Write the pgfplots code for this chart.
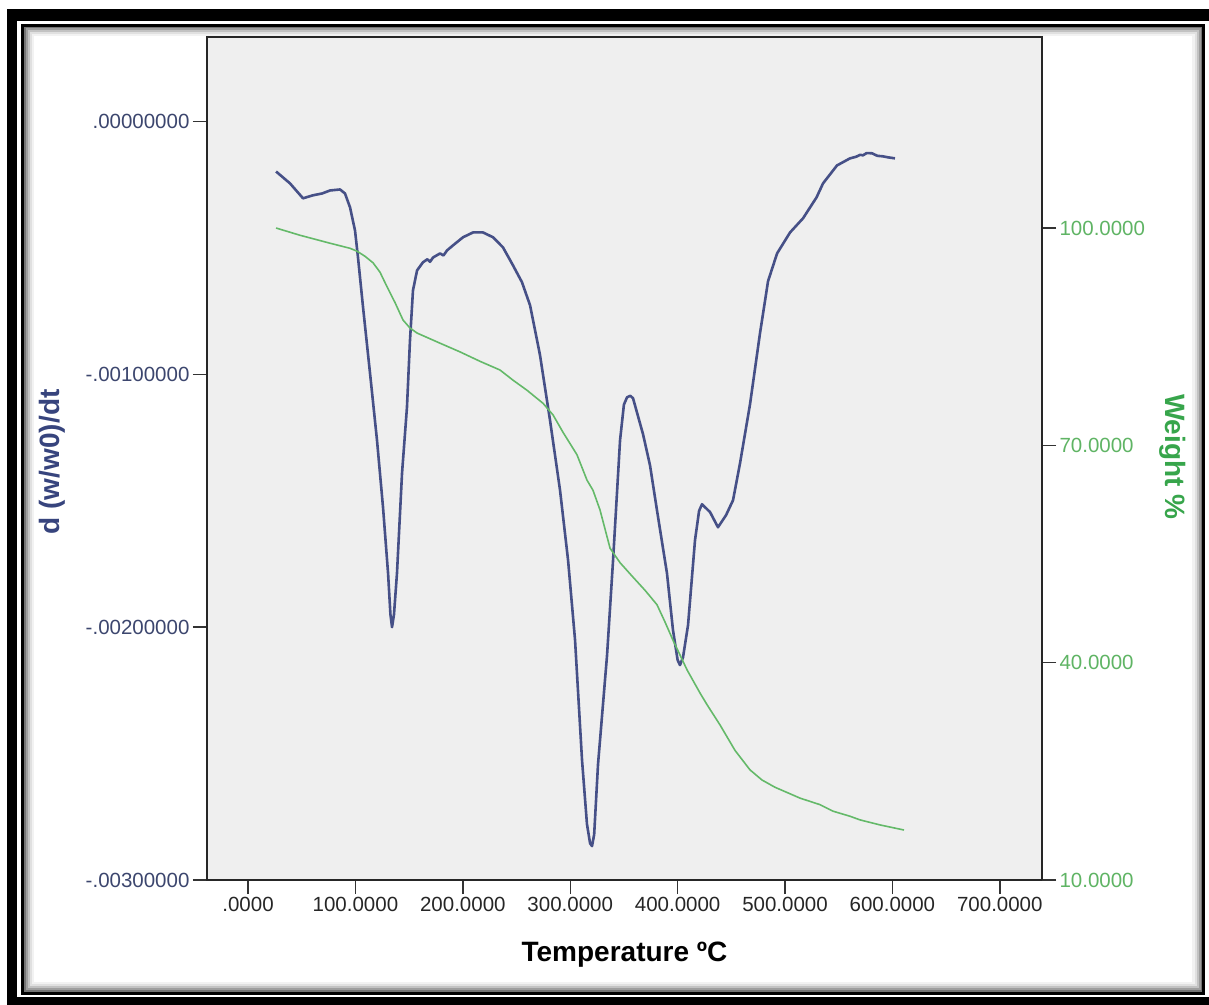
\documentclass[border=0pt]{standalone}
\usepackage{fontspec}
\setmainfont{Liberation Sans}
\usepackage{pgfplots}
\usepackage{pgfplotstable}
\pgfplotsset{compat=1.18}
\definecolor{bgfill}{RGB}{239,239,239}
\definecolor{dtgblue}{RGB}{70,80,135}
\definecolor{wgreen}{RGB}{100,185,105}
\definecolor{lefttick}{RGB}{60,70,110}
\definecolor{lefttitle}{RGB}{55,68,125}
\definecolor{righttick}{RGB}{95,180,100}
\definecolor{righttitle}{RGB}{55,165,75}

\pgfplotstableread{
x y
26.1 -0.000198
39.1 -0.000245
51.2 -0.000304
60.5 -0.000292
68.9 -0.000285
76.4 -0.000273
85.7 -0.000269
90.3 -0.000285
95.0 -0.000340
99.6 -0.000431
102.4 -0.000538
107.1 -0.000735
113.6 -0.000996
120.1 -0.001261
125.7 -0.001526
130.4 -0.001787
132.6 -0.001950
134.1 -0.002000
135.9 -0.001950
138.7 -0.001787
143.4 -0.001391
148.0 -0.001130
150.8 -0.000866
153.6 -0.000668
157.4 -0.000589
162.9 -0.000557
167.0 -0.000545
169.5 -0.000555
172.3 -0.000538
178.8 -0.000522
182.0 -0.000530
185.3 -0.000510
190.9 -0.000490
200.2 -0.000458
209.5 -0.000439
218.8 -0.000439
228.1 -0.000458
237.4 -0.000498
246.7 -0.000569
255.1 -0.000636
262.6 -0.000727
271.9 -0.000925
281.2 -0.001182
290.5 -0.001458
298.0 -0.001735
304.5 -0.002051
311.0 -0.002526
315.6 -0.002779
318.5 -0.002855
320.3 -0.002866
322.3 -0.002820
325.9 -0.002542
334.3 -0.002111
339.9 -0.001735
346.4 -0.001261
350.0 -0.001120
352.9 -0.001091
356.0 -0.001085
358.5 -0.001095
367.8 -0.001237
374.3 -0.001360
380.8 -0.001538
390.1 -0.001787
395.7 -0.002012
400.0 -0.002130
402.2 -0.002150
405.0 -0.002120
409.7 -0.001992
416.2 -0.001656
420.0 -0.001540
422.7 -0.001514
430.2 -0.001545
437.6 -0.001605
445.1 -0.001557
451.6 -0.001498
458.1 -0.001352
467.4 -0.001119
476.7 -0.000838
484.2 -0.000632
492.6 -0.000522
504.7 -0.000439
516.8 -0.000383
529.4 -0.000300
535.4 -0.000245
548.4 -0.000174
560.5 -0.000146
566.0 -0.000140
570.0 -0.000132
572.6 -0.000134
576.0 -0.000125
581.0 -0.000126
586.0 -0.000136
591.2 -0.000138
596.0 -0.000142
602.4 -0.000146
}\dtg

\pgfplotstableread{
x w
26.1 100.0
48.4 99.0
76.4 97.9
95.0 97.2
101.5 96.8
108.9 96.1
116.4 95.2
122.9 93.9
129.4 91.9
136.9 89.7
144.3 87.3
150.8 86.2
157.4 85.5
178.8 84.1
197.4 82.9
216.0 81.6
234.6 80.4
246.7 79.0
259.8 77.6
274.7 75.8
284.0 74.2
293.3 71.8
306.3 68.7
315.6 65.2
321.2 63.8
327.7 61.1
337.1 55.8
346.4 53.8
358.5 51.8
369.6 50.0
380.8 48.0
388.3 45.6
395.7 43.1
408.8 39.0
420.9 35.8
427.4 34.2
439.5 31.4
453.4 27.9
467.4 25.2
478.6 23.8
490.7 22.8
504.7 21.9
514.0 21.3
532.6 20.4
544.7 19.5
560.5 18.8
569.8 18.3
588.5 17.6
610.8 16.9
}\wt

\begin{document}
\begin{tikzpicture}[x=1pt,y=1pt]
\path[use as bounding box] (0,0) rectangle (1209,1004);
\clip (0,0) rectangle (1209,1004);
\fill[white] (0,0) rectangle (1209,1004);
% outer frame
\fill[black] (6.7,-10) rectangle (1230,994.7);
\fill[white] (16.7,7) rectangle (1209.5,983.3);
% inner shadow
\foreach \i/\c in {2/55,4/38,6/24,8/12,10/5} {
  \draw[black!\c, line width=2.2pt] (22.8+\i,11+\i) rectangle (1203.5-\i,978.7-\i);
}
\draw[black, line width=3pt] (22.8,11) rectangle (1203.5,978.7);

\begin{axis}[
  at={(207pt,124pt)}, anchor=south west,
  scale only axis, width=835pt, height=843pt,
  xmin=-38.2, xmax=739.3,
  ymin=-0.003, ymax=0.000334,
  axis background/.style={fill=bgfill},
  axis line style={black!85, line width=1.6pt, -},
  tick align=outside, major tick length=14pt,
  tick style={black!80, line width=1.4pt},
  xtick={0,100,200,300,400,500,600,700},
  xticklabels={.0000,100.0000,200.0000,300.0000,400.0000,500.0000,600.0000,700.0000},
  ytick={-0.003,-0.002,-0.001,0},
  yticklabels={-.00300000,-.00200000,-.00100000,.00000000},
  xtick pos=bottom, ytick pos=left,
  minor tick num=0,
  scaled y ticks=false,
  xticklabel style={font=\fontsize{20.5}{24}\selectfont, text=black!85},
  yticklabel style={font=\fontsize{20.5}{24}\selectfont, text=lefttick},
  xlabel={Temperature ºC},
  xlabel style={font=\fontsize{28}{32}\selectfont\bfseries, text=black, at={(axis description cs:0.5,-0.089)}, anchor=center},
  ylabel={d (w/w0)/dt},
  ylabel style={font=\fontsize{28}{32}\selectfont\bfseries, text=lefttitle, at={(axis description cs:-0.1856,0.496)}, anchor=center},
]
\addplot[dtgblue, line width=2.6pt, line join=round] table[x=x, y=y] {\dtg};
\end{axis}

\begin{axis}[
  at={(207pt,124pt)}, anchor=south west,
  scale only axis, width=835pt, height=843pt,
  xmin=-38.2, xmax=739.3,
  ymin=10, ymax=126.37,
  axis x line=none, axis y line*=right,
  axis line style={black!85, line width=1.6pt, -},
  tick align=outside, major tick length=14pt,
  tick style={black!80, line width=1.4pt},
  ytick={10,40,70,100},
  yticklabels={10.0000,40.0000,70.0000,100.0000},
  minor tick num=0,
  yticklabel style={font=\fontsize{20.5}{24}\selectfont, text=righttick},
  ylabel={Weight \%},
  ylabel style={font=\fontsize{28}{32}\selectfont\bfseries, text=righttitle, at={(axis description cs:1.1569,0.502)}, anchor=center, rotate=180},
]
\addplot[wgreen, line width=1.6pt, line join=round] table[x=x, y=w] {\wt};
\end{axis}
\end{tikzpicture}
\end{document}
